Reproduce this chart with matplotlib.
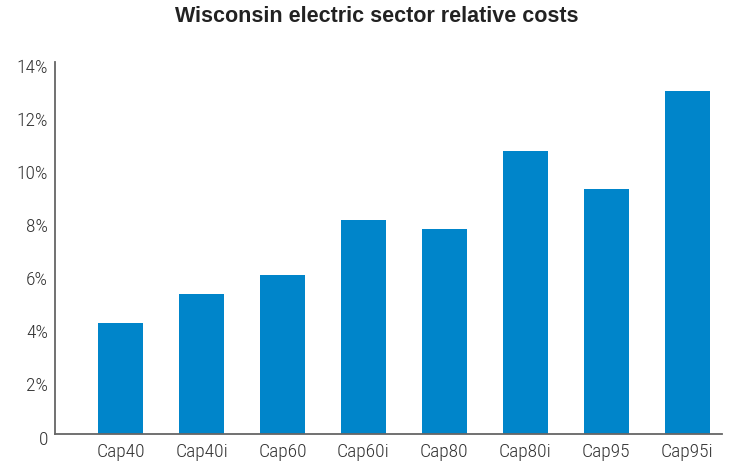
import matplotlib
matplotlib.use("Agg")
import matplotlib.pyplot as plt
from matplotlib import font_manager as fm
from matplotlib.ticker import FuncFormatter
import matplotlib.transforms as mtransforms

categories = ["Cap40", "Cap40i", "Cap60", "Cap60i", "Cap80", "Cap80i", "Cap95", "Cap95i"]
values = [4.15, 5.25, 5.96, 8.04, 7.70, 10.64, 9.21, 12.90]
yticks = [0, 2, 4, 6, 8, 10, 12, 14]

names = {f.name for f in fm.fontManager.ttflist}
tick_font = "Roboto"
for cand in ["Roboto Condensed", "Fira Sans Condensed", "IBM Plex Sans Condensed",
             "Encode Sans Condensed", "Archivo Narrow"]:
    if cand in names:
        tick_font = cand
        break

fig = plt.figure(figsize=(7.31, 4.65), dpi=100)
ax = fig.add_axes([55/731, 31.5/465, (722-55)/731, (433.5-62)/465])

x = range(len(categories))
ax.bar(x, values, width=0.555, color="#0085CA", zorder=2)
ax.set_xlim(-0.81, 7.43)
ax.set_ylim(0, 14)
ax.set_yticks(yticks)
ax.yaxis.set_major_formatter(FuncFormatter(lambda v, p: "0" if v == 0 else f"{v:.0f}%"))
ax.set_xticks(list(x))
ax.set_xticklabels(categories)

for s in ["top", "right"]:
    ax.spines[s].set_visible(False)
for s in ["left", "bottom"]:
    ax.spines[s].set_color("#666666")
    ax.spines[s].set_linewidth(1.3)

ax.tick_params(axis="both", length=0, labelsize=14, labelcolor="#333333")
ax.tick_params(axis="y", pad=5)
ax.tick_params(axis="x", pad=7)
shift = mtransforms.ScaledTranslation(0, -4/100, fig.dpi_scale_trans)
for lab in ax.get_xticklabels() + ax.get_yticklabels():
    lab.set_fontfamily(tick_font)
    lab.set_fontweight(300)
for lab in ax.get_yticklabels():
    lab.set_transform(lab.get_transform() + shift)

fig.text(377/731, 1 - 17/465, "Wisconsin electric sector relative costs",
         ha="center", va="center", fontsize=15.5, fontweight="bold",
         color="#222222", family=["Liberation Sans", "DejaVu Sans"])

fig.savefig("out.png", dpi=100)
